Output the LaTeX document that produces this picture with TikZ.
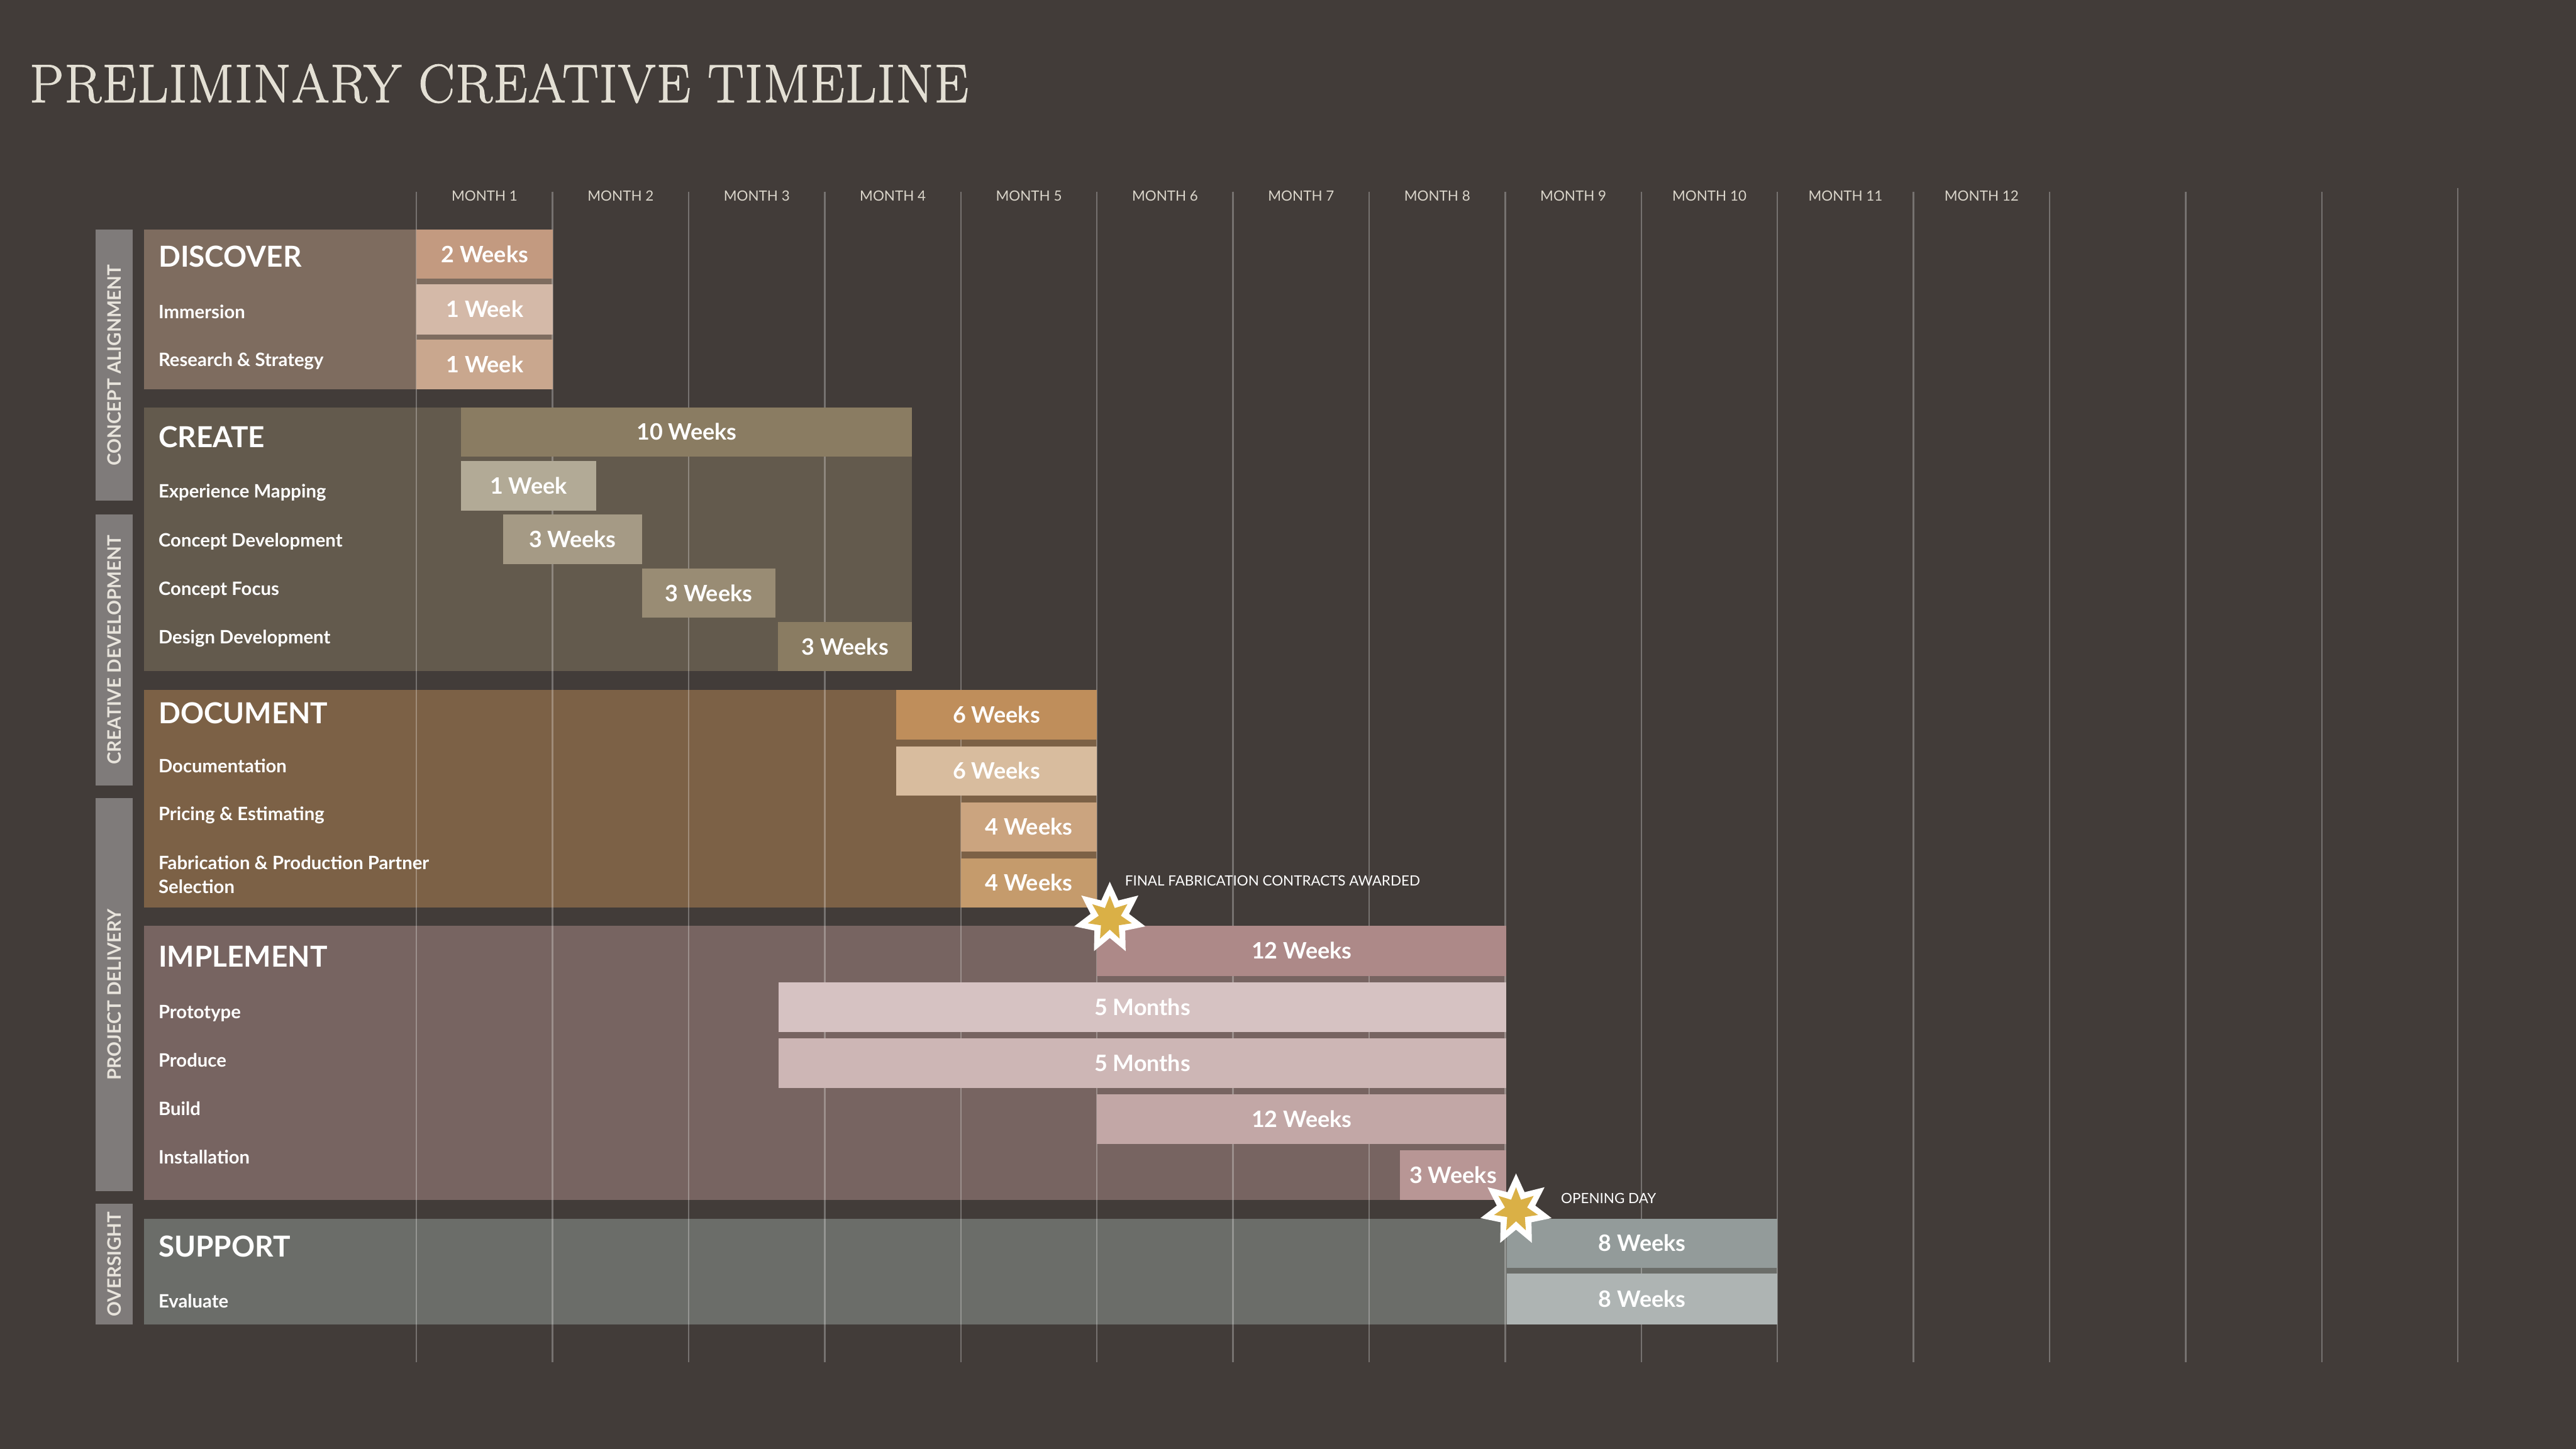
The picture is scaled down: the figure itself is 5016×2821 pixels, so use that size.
\documentclass[tikz,border=0pt]{standalone}
\usepackage{fontspec}
\newfontfamily\lato{Lato}
\newfontfamily\titlefont{lmroman17-regular.otf}[FakeBold=1.5,LetterSpace=1.6]
\usetikzlibrary{shapes.geometric}
\definecolor{bg}{HTML}{423C39}
\definecolor{titlec}{HTML}{E3DFD4}
\definecolor{monthc}{HTML}{DAD5CA}
\definecolor{vbarc}{HTML}{7F7B7A}
\definecolor{vtext}{HTML}{E8E4DC}
\definecolor{gold}{HTML}{DAB046}
% panels
\definecolor{pDisc}{HTML}{7E6C5F}
\definecolor{pCrea}{HTML}{635A4D}
\definecolor{pDocu}{HTML}{7C6146}
\definecolor{pImpl}{HTML}{776461}
\definecolor{pSupp}{HTML}{6B6D69}
% bars
\definecolor{bD1}{HTML}{C39A80}
\definecolor{bD2}{HTML}{D4B9A8}
\definecolor{bD3}{HTML}{C9A78E}
\definecolor{bC1}{HTML}{8A7C62}
\definecolor{bC2}{HTML}{B2AA96}
\definecolor{bC3}{HTML}{A59A85}
\definecolor{bC4}{HTML}{998C74}
\definecolor{bC5}{HTML}{8A7C62}
\definecolor{bO1}{HTML}{BF8E5B}
\definecolor{bO2}{HTML}{D8BC9E}
\definecolor{bO3}{HTML}{CBA47F}
\definecolor{bO4}{HTML}{C59B6C}
\definecolor{bI1}{HTML}{AD8988}
\definecolor{bI2}{HTML}{D6C2C2}
\definecolor{bI3}{HTML}{CDB6B5}
\definecolor{bI4}{HTML}{C2A7A6}
\definecolor{bI5}{HTML}{B89695}
\definecolor{bS1}{HTML}{939B9A}
\definecolor{bS2}{HTML}{AEB4B3}
\tikzset{
  box/.style={draw=none, inner sep=0pt, outer sep=0pt, rectangle},
  bartxt/.style={box, text=white, font=\lato\bfseries\fontsize{12.5}{15}\selectfont, text height=9pt, text depth=0pt},
  hdr/.style={anchor=base west, inner sep=0pt, text=white, font=\lato\bfseries\fontsize{16}{19}\selectfont},
  sublbl/.style={anchor=base west, inner sep=0pt, text=white, font=\lato\bfseries\fontsize{10.2}{12}\selectfont},
  month/.style={anchor=base, inner sep=0pt, text=monthc, font=\lato\fontsize{7.8}{9}\selectfont},
  mile/.style={anchor=base west, inner sep=0pt, text=white, font=\lato\fontsize{7.8}{9}\selectfont},
  vlabel/.style={rotate=90, inner sep=0pt, text=vtext, font=\lato\bfseries\fontsize{10.3}{12}\selectfont, text height=7.4pt, text depth=0pt},
  gridline/.style={draw=white, draw opacity=0.28, line width=0.85pt},
  starout/.style={star, star points=7, star point ratio=1.85, minimum size=1.42cm, inner sep=0pt, fill=white, draw=none},
  starin/.style={star, star points=7, star point ratio=2.0, minimum size=0.88cm, inner sep=0pt, fill=gold, draw=none},
}
\newcommand{\tlbar}[7]{\node[bartxt, fill=#6, minimum width={(#4-#2)*0.01cm}, minimum height={(#5-#3)*0.01cm}] (#1) at ({(#2+#4)/2},{(#3+#5)/2}) {#7};}
\newcommand{\tlpanel}[6]{\node[box, fill=#6, minimum width={(#4-#2)*0.01cm}, minimum height={(#5-#3)*0.01cm}] (#1) at ({(#2+#4)/2},{(#3+#5)/2}) {};}
\begin{document}
\begin{tikzpicture}[x=0.01cm,y=-0.01cm]
\fill[bg] (0,0) rectangle (5016,2821);
\useasboundingbox (0,0) rectangle (5016,2821);

% title
\node[anchor=base west, inner sep=0pt, text=titlec, font=\titlefont\fontsize{30}{36}\selectfont] (title) at (57,199) {PRELIMINARY CREATIVE TIMELINE};

% side category bars
\tlpanel{va}{186}{447}{259}{975}{vbarc}
\tlpanel{vb}{186}{1002}{259}{1529}{vbarc}
\tlpanel{vc}{186}{1554}{259}{2319}{vbarc}
\tlpanel{vd}{186}{2344}{259}{2579}{vbarc}
\node[vlabel] (vat) at (va) {CONCEPT ALIGNMENT};
\node[vlabel] (vbt) at (vb) {CREATIVE DEVELOPMENT};
\node[vlabel] (vct) at (vc) {PROJECT DELIVERY};
\node[vlabel] (vdt) at (vd) {OVERSIGHT};

% phase panels
\tlpanel{pdisc}{281}{447}{1077}{758}{pDisc}
\tlpanel{pcrea}{281}{793}{1776}{1307}{pCrea}
\tlpanel{pdocu}{281}{1343}{2136}{1767}{pDocu}
\tlpanel{pimpl}{281}{1802}{2933}{2336}{pImpl}
\tlpanel{psupp}{281}{2373}{3461}{2579}{pSupp}

% grid lines
\foreach \i in {0,...,14} \draw[gridline] ({811+265*\i},373) -- ({811+265*\i},2653);
\draw[gridline] (4786,366) -- (4786,2653);

% month labels
\foreach \i in {1,...,12} \node[month] (m\i) at ({811+265*(\i-0.5)},391) {MONTH \i};

% DISCOVER bars
\tlbar{d1}{811}{447}{1077}{543}{bD1}{2 Weeks}
\tlbar{d2}{811}{554}{1077}{651}{bD2}{1 Week}
\tlbar{d3}{811}{661}{1077}{758}{bD3}{1 Week}
% CREATE bars
\tlbar{c1}{898}{793}{1776}{889}{bC1}{10 Weeks}
\tlbar{c2}{898}{898}{1161}{994}{bC2}{1 Week}
\tlbar{c3}{980}{1002}{1250}{1098}{bC3}{3 Weeks}
\tlbar{c4}{1250}{1107}{1510}{1203}{bC4}{3 Weeks}
\tlbar{c5}{1515}{1211}{1776}{1307}{bC5}{3 Weeks}
% DOCUMENT bars
\tlbar{o1}{1745}{1343}{2136}{1440}{bO1}{6 Weeks}
\tlbar{o2}{1745}{1453}{2136}{1549}{bO2}{6 Weeks}
\tlbar{o3}{1871}{1562}{2136}{1658}{bO3}{4 Weeks}
\tlbar{o4}{1871}{1671}{2136}{1767}{bO4}{4 Weeks}
% IMPLEMENT bars
\tlbar{i1}{2136}{1802}{2933}{1901}{bI1}{12 Weeks}
\tlbar{i2}{1516}{1913}{2933}{2010}{bI2}{5 Months}
\tlbar{i3}{1516}{2022}{2933}{2119}{bI3}{5 Months}
\tlbar{i4}{2136}{2131}{2933}{2228}{bI4}{12 Weeks}
\tlbar{i5}{2726}{2240}{2933}{2336}{bI5}{3 Weeks}
% SUPPORT bars
\tlbar{s1}{2934}{2373}{3461}{2469}{bS1}{8 Weeks}
\tlbar{s2}{2934}{2480}{3461}{2579}{bS2}{8 Weeks}

% headers and sub labels
\node[hdr] (hdisc) at (308,520) {DISCOVER};
\node[sublbl] (limm) at (308,620) {Immersion};
\node[sublbl] (lres) at (308,713) {Research \& Strategy};
\node[hdr] (hcrea) at (308,871) {CREATE};
\node[sublbl] (lexp) at (308,969) {Experience Mapping};
\node[sublbl] (lcdev) at (308,1065) {Concept Development};
\node[sublbl] (lcfoc) at (308,1159) {Concept Focus};
\node[sublbl] (lddev) at (308,1253) {Design Development};
\node[hdr] (hdocu) at (308,1409) {DOCUMENT};
\node[sublbl] (ldoc) at (308,1504) {Documentation};
\node[sublbl] (lpri) at (308,1597) {Pricing \& Estimating};
\node[sublbl] (lfab) at (308,1693) {Fabrication \& Production Partner};
\node[sublbl] (lsel) at (308,1740) {Selection};
\node[hdr] (himpl) at (308,1883) {IMPLEMENT};
\node[sublbl] (lpro) at (308,1983) {Prototype};
\node[sublbl] (lprd) at (308,2077) {Produce};
\node[sublbl] (lbld) at (308,2172) {Build};
\node[sublbl] (lins) at (308,2266) {Installation};
\node[hdr] (hsupp) at (308,2447) {SUPPORT};
\node[sublbl] (leva) at (308,2547) {Evaluate};

% milestones
\node[starout] (star1) at (2161,1788) {};
\node[starin] (star1c) at (2161,1788) {};
\node[mile] (mile1) at (2190,1725) {FINAL FABRICATION CONTRACTS AWARDED};
\node[starout] (star2) at (2952,2356) {};
\node[starin] (star2c) at (2952,2356) {};
\node[mile] (mile2) at (3039,2343) {OPENING DAY};
\end{tikzpicture}
\end{document}
